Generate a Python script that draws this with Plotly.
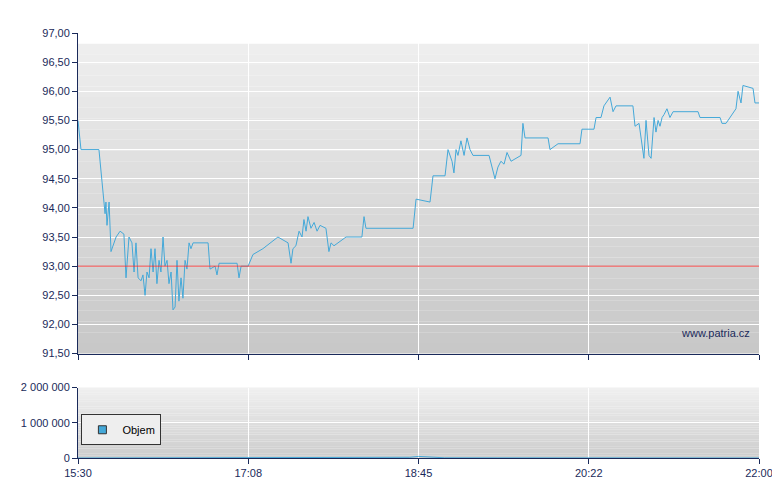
import plotly.graph_objects as go
from plotly.subplots import make_subplots

# minutes after 15:30
price_t = [0, 1.7, 12.0, 14.3, 15.5, 16.0, 16.6, 17.8, 18.9, 21.8, 24.1, 26.3, 27.5, 29.2, 30.9, 32.1, 33.2, 34.4,
           36.1, 37.2, 38.4, 39.5, 40.7, 41.8, 43.0, 44.1, 45.2, 46.4, 47.5, 48.7, 49.8, 51.0, 52.1, 53.3, 54.4,
           55.6, 56.7, 57.8, 59.0, 60.1, 61.3, 62.4, 63.6, 64.7, 65.9, 74.5, 75.6, 78.5, 79.6, 80.8, 91.1, 92.2,
           93.4, 97.4, 100.2, 105.9, 114.5, 120.3, 122.0, 123.1, 124.8, 126.6, 128.3, 129.4, 130.6, 131.7, 133.4,
           135.2, 136.9, 138.6, 142.0, 143.7, 144.9, 146.6, 153.5, 162.6, 163.8, 164.9, 191.9, 193.6, 201.6, 203.3,
           210.2, 211.9, 214.2, 215.3, 216.5, 217.6, 219.3, 221.1, 222.8, 224.5, 226.2, 235.4, 237.1, 238.8, 240.5,
           242.2, 244.0, 245.7, 248.0, 253.7, 254.8, 256.0, 269.2, 270.3, 274.9, 287.5, 288.6, 295.5, 296.7, 299.5,
           301.2, 304.7, 306.4, 308.1, 317.8, 319.0, 321.3, 323.0, 324.1, 325.3, 327.0, 328.2, 329.9, 331.0, 332.2,
           333.3, 334.5, 335.6, 337.3, 339.0, 340.8, 355.1, 356.2, 367.7, 368.8, 371.1, 373.4, 376.8, 378.0, 379.7,
           380.8, 386.6, 387.7, 390]
price = [95.5, 95.0, 95.0, 94.2, 93.9, 94.1, 93.7, 94.1, 93.25, 93.5, 93.6, 93.55, 92.8, 93.5, 93.4, 92.9, 93.4, 92.8,
         92.75, 92.85, 92.5, 92.9, 92.8, 93.3, 92.9, 93.3, 92.7, 93.1, 92.9, 93.5, 93.0, 93.1, 92.7, 92.9, 92.25,
         92.3, 93.1, 92.4, 92.8, 92.45, 93.1, 92.95, 93.4, 93.3, 93.4, 93.4, 92.95, 93.0, 92.85, 93.05, 93.05, 92.8,
         93.0, 93.0, 93.2, 93.3, 93.5, 93.4, 93.05, 93.3, 93.35, 93.6, 93.5, 93.8, 93.6, 93.85, 93.65,
         93.75, 93.6, 93.7, 93.65, 93.25, 93.4, 93.35, 93.5, 93.5, 93.85, 93.65, 93.65, 94.15, 94.1, 94.55,
         94.55, 95.0, 94.8, 94.6, 95.0, 94.9, 95.15, 94.9, 95.2, 95.0, 94.9, 94.9, 94.7, 94.5, 94.7,
         94.8, 94.75, 94.95, 94.8, 94.9, 95.45, 95.2, 95.2, 95.0, 95.1, 95.1, 95.35, 95.35, 95.55, 95.55,
         95.75, 95.9, 95.65, 95.75, 95.75, 95.4, 95.45, 95.1, 94.85, 95.5, 94.9, 94.85, 95.55, 95.3, 95.5,
         95.4, 95.55, 95.6, 95.7, 95.55, 95.65, 95.65, 95.55, 95.55, 95.45, 95.45, 95.55, 95.7, 96.0, 95.8,
         96.1, 96.05, 95.8, 95.8]

vol_t = [0, 60, 120, 180, 190, 195, 200, 205, 210, 240, 300, 330, 385, 390]
vol = [0, 3000, 5000, 8000, 20000, 45000, 30000, 15000, 5000, 4000, 3000, 2000, 15000, 0]

prev_close = 93.0
tick_t = [0, 97.5, 195, 292.5, 390]
tick_lbl = ['15:30', '17:08', '18:45', '20:22', '22:00']

fig = make_subplots(rows=2, cols=1, row_heights=[0.82, 0.18], vertical_spacing=0.08, shared_xaxes=True)

# gradient background
shapes = []
n = 30
for ax, top, bot in [('', (240, 240, 240), (200, 200, 200)), ('2', (240, 240, 240), (205, 205, 205))]:
    for s in range(n):
        f = s / (n - 1)
        c = tuple(int(top[k] + (bot[k] - top[k]) * f) for k in range(3))
        shapes.append(dict(type='rect', xref='x%s domain' % ax, yref='y%s domain' % ax, x0=0, x1=1,
                           y0=1 - (s + 1) / n, y1=1 - s / n, fillcolor='rgb(%d,%d,%d)' % c,
                           line_width=0, layer='below'))

fig.add_trace(go.Scatter(x=price_t, y=price, mode='lines', line=dict(color='#44a8d8', width=1),
                         showlegend=False), row=1, col=1)
fig.add_trace(go.Scatter(x=vol_t, y=vol, mode='lines', line=dict(color='#44a8d8', width=1),
                         showlegend=False), row=2, col=1)
# legend swatch
fig.add_trace(go.Scatter(x=[None], y=[None], mode='markers', name='Objem',
                         marker=dict(symbol='square', size=8, color='#44a8d8', line=dict(color='#333', width=1))),
              row=2, col=1)
fig.add_hline(y=prev_close, line=dict(color='#e84040', width=1), row=1, col=1)

axline = dict(showline=True, linecolor='#1a2a5a', mirror=False, ticks='outside', tickcolor='#1a2a5a',
              ticklen=5, gridcolor='white', gridwidth=1, zeroline=False, automargin=False)
fig.update_xaxes(range=[0, 390], tickvals=tick_t, ticktext=tick_lbl, **axline)
fig.update_xaxes(showticklabels=False, row=1, col=1)
fig.update_yaxes(range=[91.5, 97], dtick=0.5, tickformat='.2f', **axline, row=1, col=1)
fig.update_yaxes(range=[0, 2000000], tickvals=[0, 1000000, 2000000], tickformat=',d', **axline, row=2, col=1)

fig.add_annotation(text='www.patria.cz', xref='x domain', yref='y domain', x=0.99, y=0.04,
                   xanchor='right', yanchor='bottom', showarrow=False, font=dict(size=11, color='#1a2a5a'))

fig.update_layout(width=780, height=490, margin=dict(l=70, r=29, t=25, b=40),
                  paper_bgcolor='white', plot_bgcolor='rgba(0,0,0,0)', shapes=shapes,
                  separators=', ', font=dict(family='Liberation Sans', size=11, color='#1a2a5a'),
                  showlegend=True,
                  legend=dict(x=0.005, y=0.03, xanchor='left', yanchor='bottom', bgcolor='#eeeeee',
                              bordercolor='#333333', borderwidth=1, itemwidth=30,
                              font=dict(size=11, color='black')))

fig.write_html("out.html")
